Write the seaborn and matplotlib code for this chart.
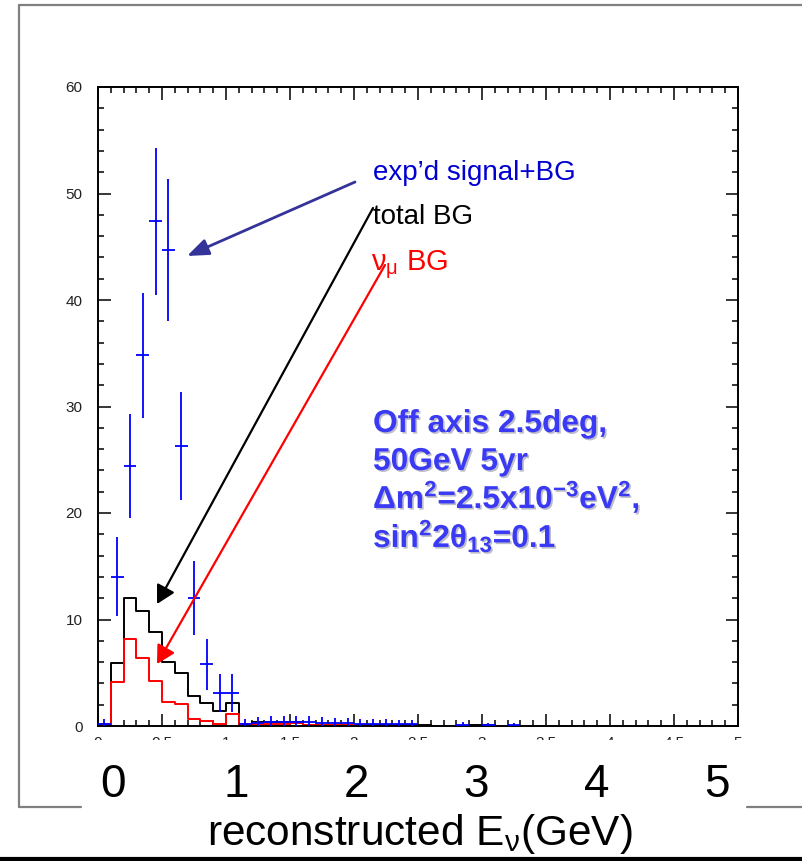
import numpy as np
import pandas as pd
import matplotlib
matplotlib.use("Agg")
import matplotlib.pyplot as plt
import matplotlib.patheffects as pe
from matplotlib.patches import Rectangle
from matplotlib.lines import Line2D
from matplotlib.ticker import MultipleLocator
import seaborn as sns

# ---------------- data ----------------
bin_edges = [round(0.1 * i, 1) for i in range(51)]
bin_centers = [round(0.1 * i + 0.05, 2) for i in range(50)]

total_bg = [0.15, 5.9, 12.0, 10.8, 8.8, 6.0, 5.0, 2.8, 2.2, 1.45,
            2.2, 0.15, 0.4, 0.4, 0.35, 0.35, 0.12, 0.12, 0.12, 0.1,
            0.12, 0.1, 0.1, 0.1, 0.08, 0.05, 0.0, 0.0, 0.0, 0.05,
            0.05, 0.0, 0.0, 0.0, 0.0, 0.0, 0.0, 0.0, 0.0, 0.0,
            0.0, 0.0, 0.0, 0.0, 0.0, 0.0, 0.0, 0.0, 0.0, 0.0]

numu_bg = [0.15, 4.1, 8.2, 6.4, 4.2, 2.3, 2.05, 0.63, 0.5, 0.16,
           1.1, 0.2, 0.15, 0.15, 0.2, 0.25, 0.08, 0.06, 0.05, 0.05,
           0.05, 0.04, 0.04, 0.03, 0.03, 0.02, 0.0, 0.0, 0.0, 0.0,
           0.0, 0.0, 0.0, 0.0, 0.0, 0.0, 0.0, 0.0, 0.0, 0.0,
           0.0, 0.0, 0.0, 0.0, 0.0, 0.0, 0.0, 0.0, 0.0, 0.0]

sig_x = [0.05, 0.15, 0.25, 0.35, 0.45, 0.55, 0.65, 0.75, 0.85, 0.95, 1.05,
         1.15, 1.25, 1.35, 1.45, 1.55, 1.65, 1.75, 1.85, 1.95, 2.05, 2.15,
         2.25, 2.35, 2.45, 2.85, 3.05, 3.25]
sig_y = [0.2, 14.0, 24.4, 34.8, 47.4, 44.7, 26.3, 12.0, 5.8, 3.1, 3.1,
         0.2, 0.3, 0.35, 0.4, 0.4, 0.35, 0.3, 0.25, 0.25, 0.2, 0.2,
         0.2, 0.15, 0.15, 0.1, 0.05, 0.05]
sig_err = [0.45, 3.7, 4.9, 5.9, 6.9, 6.7, 5.1, 3.5, 2.4, 1.75, 1.75,
           0.45, 0.5, 0.55, 0.58, 0.58, 0.55, 0.5, 0.48, 0.48, 0.45, 0.45,
           0.45, 0.4, 0.4, 0.3, 0.22, 0.22]

x_ticks = [0, 0.5, 1, 1.5, 2, 2.5, 3, 3.5, 4, 4.5, 5]
x_ticklabels = ["0", "0.5", "1", "1.5", "2", "2.5", "3", "3.5", "4", "4.5", "5"]
y_ticks = [0, 10, 20, 30, 40, 50, 60]
big_labels = ["0", "1", "2", "3", "4", "5"]

# ---------------- style ----------------
sns.set_style("ticks")
plt.rcParams["font.family"] = ["Liberation Sans", "DejaVu Sans"]
plt.rcParams["mathtext.fontset"] = "custom"
plt.rcParams["mathtext.rm"] = "Liberation Sans"
plt.rcParams["mathtext.it"] = "Liberation Sans:italic"
plt.rcParams["mathtext.bf"] = "Liberation Sans:bold"
plt.rcParams["mathtext.sf"] = "Liberation Sans"

W, H = 803, 861
fig = plt.figure(figsize=(W / 100, H / 100), dpi=100)
fig.patch.set_facecolor("white")

def fx(px):
    return px / W

def fy(py):
    return 1 - py / H

ax = fig.add_axes([fx(98), fy(726), fx(738) - fx(98), fy(87) - fy(726)])

df_bg = pd.DataFrame({"E": bin_centers, "total": total_bg, "numu": numu_bg})
sns.histplot(data=df_bg, x="E", weights="total", bins=bin_edges, element="step",
             fill=False, color="black", linewidth=1.4, ax=ax)
sns.histplot(data=df_bg, x="E", weights="numu", bins=bin_edges, element="step",
             fill=False, color="#ff0000", linewidth=1.4, ax=ax)

ax.errorbar(sig_x, sig_y, yerr=sig_err, xerr=0.05, fmt="none",
            ecolor="#0000ff", elinewidth=1.3, capsize=0, zorder=3)

ax.set_xlim(0, 5)
ax.set_ylim(0, 60)
ax.set_xlabel("")
ax.set_ylabel("")
ax.set_xticks(x_ticks)
ax.set_xticklabels(x_ticklabels)
ax.set_yticks(y_ticks)
ax.xaxis.set_minor_locator(MultipleLocator(0.1))
ax.yaxis.set_minor_locator(MultipleLocator(2))
ax.tick_params(which="both", direction="in", top=True, right=True,
               width=1.1, color="black", labelsize=11, labelcolor="#222222")
ax.tick_params(which="major", length=9)
ax.tick_params(which="minor", length=4.5)
ax.tick_params(axis="x", pad=7)
ax.tick_params(axis="y", pad=11)
for s in ax.spines.values():
    s.set_visible(True)
    s.set_linewidth(1.4)
    s.set_color("black")

# ---------------- annotations ----------------
def dx(px):
    return (px - 98) / 128.0

def dy(py):
    return (726 - py) / 10.65

ax.text(dx(373), dy(180), "exp\u2019d signal+BG", color="#0000d0", fontsize=20,
        ha="left", va="baseline")
ax.text(dx(373), dy(224), "total BG", color="black", fontsize=20,
        ha="left", va="baseline")
ax.text(dx(371), dy(270), "\u03bd$_{\\mathrm{\u03bc}}$ BG", color="#ff0000", fontsize=21,
        ha="left", va="baseline")

ax.annotate("", xy=(dx(187), dy(256)), xytext=(dx(355), dy(182)),
            arrowprops=dict(arrowstyle="-|>,head_length=1.3,head_width=0.5",
                            mutation_scale=10, lw=2.0, color="#333399",
                            shrinkA=0, shrinkB=0),
            annotation_clip=False)
ax.annotate("", xy=(dx(157), dy(604)), xytext=(dx(373), dy(208)),
            arrowprops=dict(arrowstyle="-|>,head_length=1.1,head_width=0.6",
                            mutation_scale=10, lw=1.6, color="black",
                            shrinkA=0, shrinkB=0),
            annotation_clip=False)
ax.annotate("", xy=(dx(157), dy(664)), xytext=(dx(385), dy(265)),
            arrowprops=dict(arrowstyle="-|>,head_length=1.1,head_width=0.6",
                            mutation_scale=10, lw=1.6, color="#ff0000",
                            shrinkA=0, shrinkB=0),
            annotation_clip=False)

box_lines = ["Off axis 2.5deg,",
             "50GeV 5yr",
             "\u0394m$^{\\mathbf{2}}$=2.5x10$^{\\mathbf{-3}}$eV$^{\\mathbf{2}}$,",
             "sin$^{\\mathbf{2}}$2\u03b8$_{\\mathbf{13}}$=0.1"]
box_base = [432, 470, 508, 547]
shadow = [pe.withSimplePatchShadow(offset=(1.2, -1.2), shadow_rgbFace="#444466", alpha=0.35)]
for line, b in zip(box_lines, box_base):
    ax.text(dx(373), dy(b), line, color="#3a3af5", fontsize=22.8, fontweight="bold",
            ha="left", va="baseline", path_effects=shadow)

# ---------------- slide overlay ----------------
fig.patches.append(Rectangle((0, 0), 1, fy(740), transform=fig.transFigure,
                             facecolor="white", edgecolor="none", zorder=5))
grey = "#808080"
fig.lines.append(Line2D([fx(19), fx(19)], [fy(5), fy(807)], transform=fig.transFigure,
                        color=grey, lw=1.6, zorder=6))
fig.lines.append(Line2D([fx(19), 1.0], [fy(5), fy(5)], transform=fig.transFigure,
                        color=grey, lw=1.6, zorder=6))
fig.lines.append(Line2D([fx(19), fx(81)], [fy(807), fy(807)], transform=fig.transFigure,
                        color=grey, lw=1.6, zorder=6))
fig.lines.append(Line2D([fx(747), 1.0], [fy(807), fy(807)], transform=fig.transFigure,
                        color=grey, lw=1.6, zorder=6))
fig.lines.append(Line2D([0, 1.0], [fy(859), fy(859)], transform=fig.transFigure,
                        color="black", lw=3.0, zorder=6))

big_x = [113, 236, 356, 476, 597, 717]
for lab, px in zip(big_labels, big_x):
    fig.text(fx(px), fy(797), lab, fontsize=33, ha="center", va="baseline",
             color="black", zorder=7)

fig.text(fx(207), fy(845), "reconstructed E$_{\\mathrm{\u03bd}}$(GeV)", fontsize=30.5,
         ha="left", va="baseline", color="black", zorder=7)

fig.savefig("out.png", dpi=100)
